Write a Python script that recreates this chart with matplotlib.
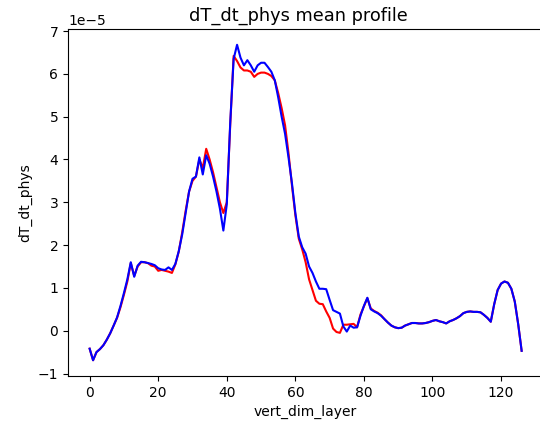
import numpy as np
import matplotlib
matplotlib.use("Agg")
import matplotlib.pyplot as plt

# mean profiles of dT_dt_phys per vertical layer (units of 1e-5)
vert_dim_layer = list(range(127))

profile_red = [
    -0.42, -0.69, -0.50, -0.43, -0.34, -0.21, -0.06, 0.12, 0.30, 0.55,
    0.84, 1.15, 1.58, 1.28, 1.50, 1.60, 1.60, 1.58, 1.52, 1.50,
    1.40, 1.42, 1.40, 1.38, 1.35, 1.55, 1.85, 2.30, 2.80, 3.25,
    3.50, 3.60, 4.00, 3.80, 4.25, 4.00, 3.70, 3.35, 3.00, 2.75,
    3.00, 4.80, 6.42, 6.30, 6.15, 6.08, 6.08, 6.05, 5.93, 6.00,
    6.03, 6.03, 6.00, 5.95, 5.85, 5.55, 5.20, 4.80, 4.15, 3.40,
    2.70, 2.15, 1.90, 1.60, 1.20, 0.95, 0.70, 0.63, 0.62, 0.45,
    0.30, 0.05, -0.03, -0.05, 0.14, 0.14, 0.15, 0.16, 0.08, 0.38,
    0.57, 0.76, 0.52, 0.46, 0.42, 0.36, 0.27, 0.19, 0.12, 0.08,
    0.06, 0.07, 0.12, 0.15, 0.18, 0.18, 0.17, 0.17, 0.18, 0.20,
    0.23, 0.25, 0.22, 0.20, 0.17, 0.22, 0.25, 0.29, 0.34, 0.41,
    0.44, 0.45, 0.44, 0.44, 0.43, 0.37, 0.30, 0.21, 0.62, 0.95,
    1.10, 1.15, 1.12, 0.98, 0.68, 0.15, -0.47,
]

profile_blue = [
    -0.42, -0.69, -0.50, -0.43, -0.34, -0.21, -0.06, 0.12, 0.31, 0.58,
    0.88, 1.20, 1.60, 1.26, 1.52, 1.61, 1.60, 1.58, 1.56, 1.53,
    1.46, 1.43, 1.42, 1.48, 1.42, 1.56, 1.86, 2.25, 2.75, 3.25,
    3.55, 3.60, 4.05, 3.65, 4.10, 3.90, 3.60, 3.25, 2.85, 2.34,
    2.95, 4.85, 6.35, 6.68, 6.38, 6.20, 6.32, 6.20, 6.05, 6.20,
    6.26, 6.26, 6.16, 6.05, 5.85, 5.45, 5.00, 4.60, 4.05, 3.45,
    2.75, 2.20, 1.95, 1.80, 1.50, 1.35, 1.15, 0.98, 0.98, 0.97,
    0.72, 0.48, 0.44, 0.40, 0.10, -0.02, 0.12, 0.07, 0.08, 0.35,
    0.58, 0.77, 0.50, 0.45, 0.41, 0.35, 0.27, 0.19, 0.12, 0.08,
    0.06, 0.07, 0.12, 0.15, 0.18, 0.18, 0.17, 0.17, 0.18, 0.20,
    0.23, 0.25, 0.22, 0.20, 0.17, 0.22, 0.25, 0.29, 0.34, 0.41,
    0.44, 0.45, 0.44, 0.44, 0.43, 0.37, 0.30, 0.21, 0.62, 0.95,
    1.10, 1.15, 1.12, 0.98, 0.68, 0.15, -0.47,
]

scale = 1e-5

fig = plt.figure(figsize=(5.4, 4.33), dpi=100)
ax = fig.add_axes([0.126, 0.1316, 0.880, 0.8014])
# right edge of the frame falls outside the canvas
ax.spines["right"].set_visible(False)

ax.plot(vert_dim_layer, np.array(profile_red) * scale, color="red")
ax.plot(vert_dim_layer, np.array(profile_blue) * scale, color="blue")

ax.set_title("dT_dt_phys mean profile", fontsize=12.8, x=0.485)
ax.set_xlabel("vert_dim_layer")
ax.set_ylabel("dT_dt_phys")

fig.savefig("out.png", dpi=100)
